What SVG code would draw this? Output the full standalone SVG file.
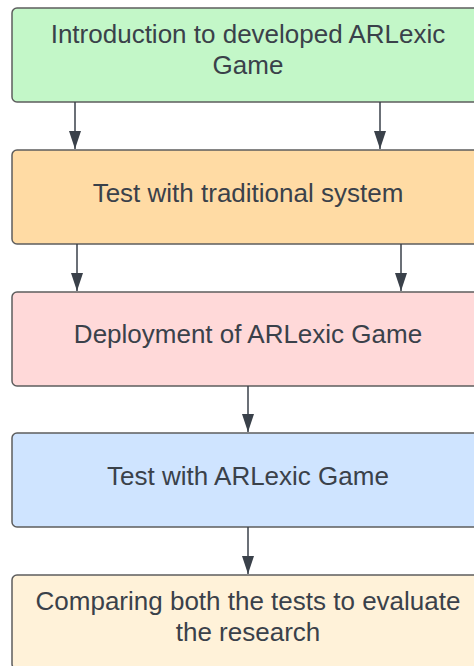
<svg xmlns="http://www.w3.org/2000/svg" width="474" height="666" viewBox="0 0 474 666">
<defs>
<style>
.box{stroke:#5e5e5e;stroke-width:1.5}
.t{font-family:"Liberation Sans",Arial,sans-serif;font-size:26px;fill:#3a414a;text-anchor:middle}
.c{stroke:#3a414a;stroke-width:1.5;fill:none}
</style>
<marker id="ah" viewBox="0 0 18 12" refX="18" refY="6" markerWidth="18" markerHeight="12" markerUnits="userSpaceOnUse" orient="auto">
<path d="M0,0 L18,6 L0,12 Z" fill="#3a414a"/>
</marker>
</defs>
<rect width="474" height="666" fill="#ffffff"/>
<g id="n1">
<rect class="box" x="12" y="8" width="480" height="94" rx="5" fill="#c3f7c8"/>
<text class="t" x="248" y="43">Introduction to developed ARLexic</text>
<text class="t" x="248" y="74">Game</text>
</g>
<g id="n2">
<rect class="box" x="12" y="150" width="480" height="94" rx="5" fill="#ffdba4"/>
<text class="t" x="248" y="202">Test with traditional system</text>
</g>
<g id="n3">
<rect class="box" x="12" y="292" width="480" height="94" rx="5" fill="#ffd9d9"/>
<text class="t" x="248" y="343">Deployment of ARLexic Game</text>
</g>
<g id="n4">
<rect class="box" x="12" y="433" width="480" height="94" rx="5" fill="#cfe4ff"/>
<text class="t" x="248" y="485">Test with ARLexic Game</text>
</g>
<g id="n5">
<rect class="box" x="12" y="575" width="480" height="94" rx="5" fill="#fff2d9"/>
<text class="t" x="248" y="610">Comparing both the tests to evaluate</text>
<text class="t" x="248" y="641">the research</text>
</g>
<g id="connectors">
<line class="c" x1="75" y1="102" x2="75" y2="149" marker-end="url(#ah)"/>
<line class="c" x1="380" y1="102" x2="380" y2="149" marker-end="url(#ah)"/>
<line class="c" x1="77" y1="244" x2="77" y2="291" marker-end="url(#ah)"/>
<line class="c" x1="401" y1="244" x2="401" y2="291" marker-end="url(#ah)"/>
<line class="c" x1="248" y1="386" x2="248" y2="432" marker-end="url(#ah)"/>
<line class="c" x1="248" y1="527" x2="248" y2="574" marker-end="url(#ah)"/>
</g>
</svg>
